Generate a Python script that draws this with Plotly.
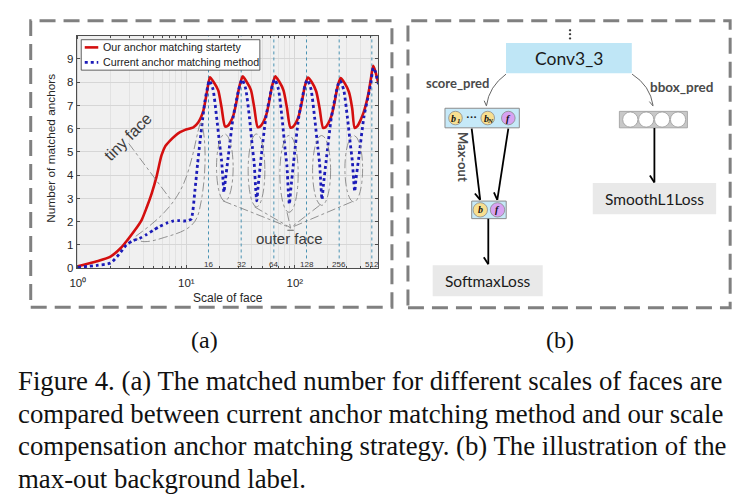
import math
import plotly.graph_objects as go

# ---------------- data ----------------
scale_ours = [1, 1.5, 2, 2.5, 2.85, 3.35, 3.86, 4.3, 4.78, 5.3, 5.9, 6.4, 7.08, 7.9, 8.75, 9.73,
              11.6, 12.9, 14.35, 15.5,
              16.5, 17.9, 19.7, 21.1, 22.7, 24.0, 25.6, 27.2, 28.8, 30.4, 31.5,
              33.0, 35.8, 39.4, 42.2, 45.4, 48.0, 51.2, 54.4, 57.6, 60.8, 63.0,
              65.9, 71.7, 78.7, 84.5, 90.9, 96.0, 102.4, 108.8, 115.2, 121.6, 126.1,
              131.8, 143.4, 157.4, 169.0, 181.8, 192.0, 204.8, 217.6, 230.4, 243.2, 252.2,
              263.7, 286.7, 314.9, 337.9, 355.0, 375.0, 401.0, 430.0, 455.0, 480.0, 500.0,
              527, 552, 572, 589]
matched_ours = [0.08, 0.3, 0.5, 0.88, 1.2, 1.63, 2.06, 2.6, 3.2, 3.92, 4.85, 5.25, 5.49, 5.7, 5.85, 5.95,
                6.06, 6.28, 6.78, 7.6,
                8.21, 8.0, 7.64, 6.92, 6.1, 6.12, 6.3, 6.6, 7.1, 7.7, 7.98,
                8.25, 8.03, 7.66, 6.92, 6.07, 6.1, 6.28, 6.58, 7.1, 7.7, 8.0,
                8.25, 8.03, 7.64, 6.9, 6.05, 6.08, 6.26, 6.56, 7.08, 7.68, 7.98,
                8.2, 8.0, 7.6, 6.88, 6.04, 6.07, 6.26, 6.56, 7.05, 7.65, 7.95,
                8.18, 7.97, 7.58, 6.86, 6.04, 6.1, 6.35, 6.7, 7.1, 7.6, 8.1,
                8.71, 8.47, 8.18, 7.95]

scale_current = [1, 1.5, 2, 2.4, 2.8, 3.2, 3.7, 4.3, 4.95, 5.7, 6.6, 7.5, 8.5, 9.5, 10.4, 11.1,
                 12.0, 12.7, 13.4, 14.2, 14.85, 15.7,
                 16.3, 17.6, 19.0, 20.3, 21.1, 21.8, 22.2, 22.9, 24.3, 27.0, 30.1, 31.5,
                 32.6, 35.2, 38.1, 40.6, 42.2, 43.5, 44.5, 45.8, 48.6, 54.1, 60.2, 63.0,
                 65.3, 70.4, 76.2, 81.3, 84.5, 87.0, 89.0, 91.5, 97.3, 108.2, 120.3, 126.1,
                 130.6, 140.8, 152.3, 162.6, 169.0, 174.1, 177.9, 183.0, 194.6, 216.3, 240.6, 252.2,
                 261.1, 281.6, 304.6, 325.1, 337.9, 348.2, 355.8, 366.1, 389.1, 432.6, 481.3, 504.3,
                 527, 552, 572, 589]
matched_current = [0.04, 0.12, 0.22, 0.6, 1.0, 1.18, 1.28, 1.45, 1.63, 1.8, 1.94, 2.03, 2.05, 2.03, 2.05, 2.12,
                   3.35, 4.5, 5.49, 6.5, 7.2, 7.8,
                   8.08, 7.7, 6.5, 5.3, 4.64, 3.75, 3.27, 3.8, 4.78, 6.5, 7.6, 7.95,
                   8.12, 7.72, 6.5, 5.2, 4.5, 3.45, 2.9, 3.5, 4.65, 6.5, 7.6, 7.98,
                   8.12, 7.72, 6.45, 5.1, 4.4, 3.3, 2.75, 3.35, 4.55, 6.45, 7.6, 7.98,
                   8.1, 7.7, 6.45, 5.2, 4.5, 3.5, 2.95, 3.55, 4.65, 6.45, 7.58, 7.95,
                   8.07, 7.68, 6.5, 5.3, 4.64, 3.8, 3.3, 3.85, 4.8, 6.5, 7.55, 8.05,
                   8.62, 8.45, 8.15, 7.92]

anchor_strides = [16, 32, 64, 128, 256, 512]
x_tick_vals = [1, 10, 100]
x_tick_text = ["10\u2070", "10\u00b9", "10\u00b2"]
x_minor_vals = [2, 3, 4, 5, 6, 7, 8, 9, 20, 30, 40, 50, 60, 70, 80, 90, 200, 300, 400, 500]
y_tick_vals = [0, 1, 2, 3, 4, 5, 6, 7, 8, 9]
series_names = ["Our anchor matching startety", "Current anchor matching method"]

caption_lines = [
    "Figure 4. (a) The matched number for different scales of faces are",
    "compared between current anchor matching method and our scale",
    "compensation anchor matching strategy. (b) The illustration of the",
    "max-out background label.",
]

# ---------------- helpers (pixel -> paper) ----------------
W, H = 746, 494
SX, OX = 0.99, 7.3
SY, OY = 0.99, -0.8
def fx(p):
    return ((p - OX) / SX) / W
def fy(p):
    return 1 - ((p - OY) / SY) / H

shapes = []
annos = []
SANS = "Liberation Sans"
CAL = "Lato"
SERIF = "Liberation Serif"

def rect(x0, y0, x1, y1, fill=None, lc=None, lw=1.0, dash=None):
    shapes.append(dict(type="rect", xref="paper", yref="paper",
                       x0=fx(x0), x1=fx(x1), y0=fy(y1), y1=fy(y0),
                       fillcolor=fill or "rgba(0,0,0,0)",
                       line=dict(color=lc or "rgba(0,0,0,0)", width=lw if lc else 0, dash=dash),
                       layer="above"))

def circ(cx, cy, r, fill, lc="#8a8a8a", lw=0.8):
    shapes.append(dict(type="circle", xref="paper", yref="paper",
                       x0=fx(cx - r), x1=fx(cx + r), y0=fy(cy + r), y1=fy(cy - r),
                       fillcolor=fill, line=dict(color=lc, width=lw), layer="above"))

def seg(x0, y0, x1, y1, color, w=1.0, dash=None):
    shapes.append(dict(type="line", xref="paper", yref="paper",
                       x0=fx(x0), x1=fx(x1), y0=fy(y0), y1=fy(y1),
                       line=dict(color=color, width=w, dash=dash), layer="above"))

def path(cmds, color, w=1.0, dash=None, fill=None):
    parts = []
    for c, pts in cmds:
        coords = " ".join("%.5f,%.5f" % (fx(a), fy(b)) for a, b in pts)
        parts.append(c + " " + coords if pts else c)
    shapes.append(dict(type="path", xref="paper", yref="paper", path=" ".join(parts),
                       line=dict(color=color, width=w, dash=dash),
                       fillcolor=fill or "rgba(0,0,0,0)", layer="above"))

def text(x, y, s, size, color="#1a1a1a", family=SANS, angle=0, xanchor="center",
         weight="normal", style="normal"):
    annos.append(dict(x=fx(x), y=fy(y), xref="paper", yref="paper", text=s, showarrow=False,
                      font=dict(size=size, color=color, family=family, weight=weight, style=style),
                      textangle=angle, xanchor=xanchor, yanchor="middle"))

def head(xh, yh, dx, dy, color, w, length=7.0, half=4.5):
    n = math.hypot(dx, dy)
    ux, uy = dx / n, dy / n
    bx, by = xh - ux * length, yh - uy * length
    px, py = -uy * half, ux * half
    path([("M", [(bx + px, by + py)]), ("L", [(xh, yh), (bx - px, by - py)])], color, w)

def arrow(xt, yt, xh, yh, color="#000000", w=1.8):
    seg(xt, yt, xh, yh, color, w)
    head(xh, yh, xh - xt, yh - yt, color, w)

def var(x, y, letter, sub=None, size=10):
    text(x - (1.5 if sub else 0), y, letter, size, "#111111", SERIF, weight="bold", style="italic")
    if sub:
        text(x + 3.2, y + 2.5, sub, 7, "#111111", SERIF, weight="bold", style="italic")

# ---------------- figure / chart (a) ----------------
fig = go.Figure()

vx, vy = [], []
for s in anchor_strides:
    vx += [s, s, None]
    vy += [0.42, 10, None]
fig.add_trace(go.Scatter(x=vx, y=vy, mode="lines", hoverinfo="skip", showlegend=False,
                         line=dict(color="#4a93b3", width=1, dash="dot")))
fig.add_trace(go.Scatter(x=scale_ours, y=matched_ours, mode="lines", name=series_names[0],
                         line=dict(color="#d40f0f", width=2.6, shape="spline", smoothing=0.6),
                         showlegend=False))
fig.add_trace(go.Scatter(x=scale_current, y=matched_current, mode="lines", name=series_names[1],
                         line=dict(color="#1c1cb8", width=2.8, dash="dot", shape="spline", smoothing=0.6),
                         showlegend=False))
# stride labels (annotations on the log axis use log10 positions)
for s in anchor_strides:
    annos.append(dict(x=math.log10(s), y=0.16, xref="x", yref="y", text=str(s), showarrow=False,
                      font=dict(size=8, color="#333333", family=SANS),
                      xanchor="center", yanchor="middle"))

PL, PR, PT, PB = 77.0, 378.5, 35.0, 268.0
axis_common = dict(showline=True, linecolor="#4d4d4d", linewidth=1, mirror="ticks",
                   ticks="inside", ticklen=3, tickcolor="#4d4d4d",
                   showgrid=True, gridcolor="#d6d6d6", gridwidth=0.8, zeroline=False,
                   tickfont=dict(size=11.5, color="#262626", family=SANS))
fig.update_layout(
    width=W, height=H, margin=dict(l=0, r=0, t=0, b=0),
    paper_bgcolor="white", plot_bgcolor="#f0f0f0", showlegend=False,
    xaxis=dict(type="log", range=[-0.01, 2.77], domain=[fx(PL), fx(PR)],
               tickvals=x_tick_vals, ticktext=x_tick_text, ticklabelstandoff=4,
               minor=dict(tickmode="array", tickvals=x_minor_vals, showgrid=True,
                          gridcolor="#e2e2e2", gridwidth=0.6, ticks="inside", ticklen=2,
                          tickcolor="#4d4d4d"),
               **axis_common),
    yaxis=dict(range=[0, 10], domain=[fy(PB), fy(PT)], tickvals=y_tick_vals, **axis_common),
)

# axis titles
text((PL + PR) / 2, 298, "Scale of face", 12, "#262626", SANS)
text(51.5, 148, "Number of matched anchors", 11.8, "#262626", SANS, angle=-90)

# manual legend
rect(81.5, 39, 260, 69.5, fill="white", lc="#3a3a3a", lw=0.8)
seg(85, 46.7, 98.5, 46.7, "#d40f0f", 2.6)
seg(85, 61.7, 98.5, 61.7, "#1c1cb8", 2.6, "dot")
text(101.5, 46.7, series_names[0], 10.7, "#1a1a1a", SANS, xanchor="left")
text(101.5, 61.7, series_names[1], 10.7, "#1a1a1a", SANS, xanchor="left")

# tiny face annotation
GR = "#7a7a7a"
path([("M", [(136, 236)]), ("C", [(155, 222), (178, 205), (188, 172)]),
      ("C", [(195, 150), (197, 132), (201, 121)]),
      ("C", [(207, 135), (207, 180), (199, 212)]),
      ("C", [(195, 228), (182, 232), (165, 237)]),
      ("C", [(150, 242), (138, 244), (136, 236)]), ("Z", [])], GR, 0.8, "dashdot")
seg(129, 143, 171.5, 200, GR, 0.8, "dashdot")
text(128.5, 136, "tiny face", 16, "#3c3c3c", SANS, angle=-45)

# outer face ellipses + leaders
ells = [(216.7, 133.5, 233.3, 200.5), (248.3, 133.5, 265.0, 206.5), (280.0, 135.0, 298.3, 212.0),
        (312.7, 135.0, 330.7, 205.0), (345.0, 135.0, 362.7, 201.5)]
for x0, y0, x1, y1 in ells:
    shapes.append(dict(type="circle", xref="paper", yref="paper", x0=fx(x0), x1=fx(x1),
                       y0=fy(y1), y1=fy(y0), line=dict(color=GR, width=0.8, dash="dashdot"),
                       layer="above"))
    seg((x0 + x1) / 2 - 2, y1, 290.7, 227.5, GR, 0.8, "dashdot")
path([("M", [(287.6, 230.0)]), ("L", [(293.8, 230.0), (290.7, 226.0)]), ("Z", [])],
     "#777777", 0.8, None, "#8a8a8a")
text(289.5, 238, "outer face", 15, "#3c3c3c", SANS)

# ---------------- diagram (b) ----------------
DASHC = "#808080"
rect(31, 20, 392, 307, lc=DASHC, lw=3, dash="16px,8px")
rect(408, 20, 730, 307.5, lc=DASHC, lw=3, dash="16px,8px")

for yy in (29.5, 33.5, 37.7):
    circ(570, yy, 0.9, "#222222", "#222222", 0.3)
rect(506, 42.3, 631.7, 72.7, fill="#bfe6f6")
text(569, 57.5, "Conv3_3", 17.5, "#1a1a1a", CAL)

# curved arrows
path([("M", [(506, 73.5)]), ("Q", [(489, 86), (486.5, 105)])], "#555555", 0.9)
head(486.5, 105.5, -2.5, 19, "#555555", 0.9, 5, 3)
path([("M", [(632, 73.5)]), ("Q", [(650, 85), (653, 105)])], "#555555", 0.9)
head(653, 105.5, 3, 20, "#555555", 0.9, 5, 3)
text(457.5, 82.7, "score_pred", 13, "#4a4a4a", CAL, weight="bold")
text(681.5, 86.7, "bbox_pred", 13.5, "#4a4a4a", CAL, weight="bold")

# score box
rect(445, 107.7, 519.3, 127.3, fill="#c6e9f8", lc="#8c8c8c", lw=1)
YEL, PUR = "#f8df90", "#d7a2f2"
circ(455.5, 117.5, 6.8, YEL)
circ(487.7, 117.5, 6.8, YEL)
circ(508.3, 117.5, 6.8, PUR)
var(455.5, 117.5, "b", "1")
var(487.7, 117.5, "b", "N")
var(508.3, 117.5, "f")
text(471.5, 116.5, "···", 11, "#111111", SERIF, weight="bold")

# bbox box
rect(619.3, 110.8, 687.3, 127.3, fill="#c8c8c8", lc="#9a9a9a", lw=0.8)
for cx in (630.2, 646.1, 662.0, 677.9):
    circ(cx, 119, 7.6, "white", "#9a9a9a", 0.8)

# max-out arrows
arrow(471.7, 128, 480.2, 199.5)
arrow(508.3, 128, 497.3, 199.5)
text(462.5, 157, "Max-out", 13, "#4a4a4a", CAL, angle=90, weight="bold")

# small box
rect(471.7, 200.7, 506.2, 218.3, fill="#c6e9f8", lc="#8c8c8c", lw=1)
circ(480.3, 209.5, 7.2, YEL)
circ(497.5, 209.5, 7.2, PUR)
var(480.3, 209.5, "b")
var(497.5, 209.5, "f")

arrow(488.3, 218.5, 488.3, 264)
rect(432.7, 265, 542.7, 296, fill="#e9e9e9")
text(487.7, 280.5, "SoftmaxLoss", 15.5, "#1a1a1a", CAL)

arrow(654.3, 127.5, 654.3, 182)
rect(592.7, 182.7, 716, 214, fill="#e9e9e9")
text(654.3, 198.5, "SmoothL1Loss", 15.5, "#1a1a1a", CAL)

# ---------------- captions ----------------
text(205, 339.5, "(a)", 24, "#111111", SERIF)
text(560, 339.5, "(b)", 24, "#111111", SERIF)
for i, ln in enumerate(caption_lines):
    text(16.5, 381 + i * 32.7, ln, 26.8, "#111111", SERIF, xanchor="left")

fig.update_layout(shapes=shapes, annotations=annos)
fig.write_html("out.html", config={"displayModeBar": False},
               post_script="document.body.style.margin='0';document.body.style.overflow='hidden';")
